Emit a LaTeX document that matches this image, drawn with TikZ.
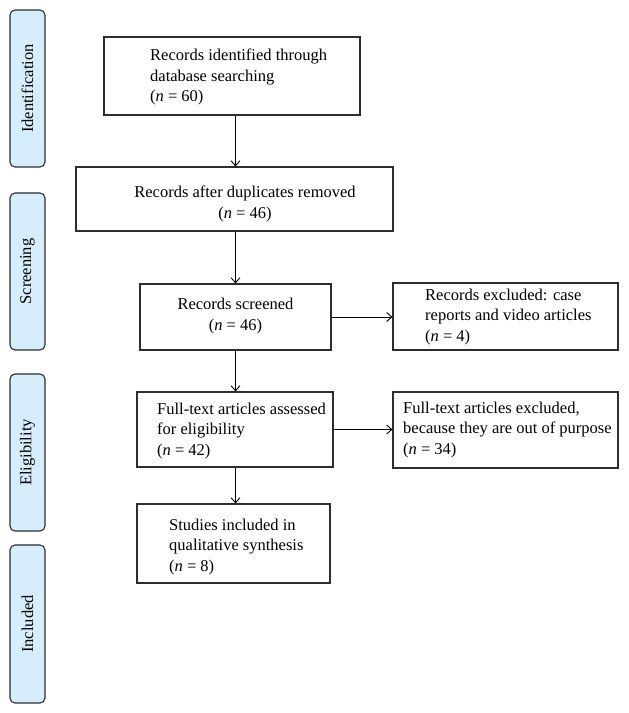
\documentclass[tikz,border=0pt]{standalone}
\usepackage{fontspec}
\setmainfont{Liberation Serif}
\usetikzlibrary{arrows.meta}
\definecolor{sidefill}{RGB}{214,237,251}
\definecolor{edgecol}{RGB}{45,45,45}
\begin{document}
\begin{tikzpicture}[x=1pt,y=-1pt,
  stage/.style={draw=edgecol, fill=sidefill, line width=1.1pt, rounded corners=5pt,
    minimum width=35pt, inner sep=0pt, font=\fontsize{16.5}{20}\selectfont},
  box/.style={draw=edgecol, line width=1.2pt, inner sep=0pt},
  txt/.style={font=\fontsize{16.5}{20.5}\selectfont, inner sep=0pt},
  flow/.style={draw=black, line width=0.9pt, -{Straight Barb[length=5pt,width=9pt]}}]
\useasboundingbox (0,0) rectangle (629,713);

% stage labels
\node[stage, minimum height=157pt] (sid) at (27.5,88.5) {\rotatebox{90}{Identification}};
\node[stage, minimum height=157pt] (sscr) at (27.5,271.5) {\rotatebox{90}{Screening}};
\node[stage, minimum height=157pt] (selig) at (27.5,452.5) {\rotatebox{90}{Eligibility}};
\node[stage, minimum height=158pt] (sinc) at (27.5,624) {\rotatebox{90}{Included}};

% boxes
\node[box, minimum width=256pt, minimum height=78pt] (b1) at (232,76) {};
\node[box, minimum width=317pt, minimum height=64pt] (b2) at (234.5,199) {};
\node[box, minimum width=191pt, minimum height=66pt] (b3) at (235.5,317) {};
\node[box, minimum width=225pt, minimum height=67pt] (e1) at (505.5,316.5) {};
\node[box, minimum width=196pt, minimum height=75pt] (b4) at (235,429.5) {};
\node[box, minimum width=225pt, minimum height=76pt] (e2) at (505.5,430) {};
\node[box, minimum width=193pt, minimum height=79pt] (b5) at (233.5,543.5) {};

% texts
\node[txt, align=left, anchor=west] (t1) at (150,77)
  {Records identified through\\database searching\\(\textit{n} = 60)};
\node[txt, align=center] (t2) at (245,204)
  {Records after duplicates removed\\(\textit{n} = 46)};
\node[txt, align=center] (t3) at (235.5,316)
  {Records screened\\(\textit{n} = 46)};
\node[txt, align=left, anchor=west] (te1) at (425,317)
  {Records excluded: case\\reports and video articles\\(\textit{n} = 4)};
\node[txt, align=left, anchor=west] (t4) at (157,431)
  {Full-text articles assessed\\for eligibility\\(\textit{n} = 42)};
\node[txt, align=left, anchor=west] (te2) at (403,430)
  {Full-text articles excluded,\\because they are out of purpose\\(\textit{n} = 34)};
\node[txt, align=left, anchor=west] (t5) at (169,547)
  {Studies included in\\qualitative synthesis\\(\textit{n} = 8)};

% connectors
\draw[flow] (b1.south -| b3.center) -- (b2.north -| b3.center);
\draw[flow] (b2.south -| b3.center) -- (b3.north);
\draw[flow] (b3.south) -- (b4.north -| b3.center);
\draw[flow] (b4.south -| b3.center) -- (b5.north -| b3.center);
\draw[flow] (b3.east) -- (e1.west |- b3.east);
\draw[flow] (b4.east) -- (e2.west |- b4.east);
\end{tikzpicture}
\end{document}
